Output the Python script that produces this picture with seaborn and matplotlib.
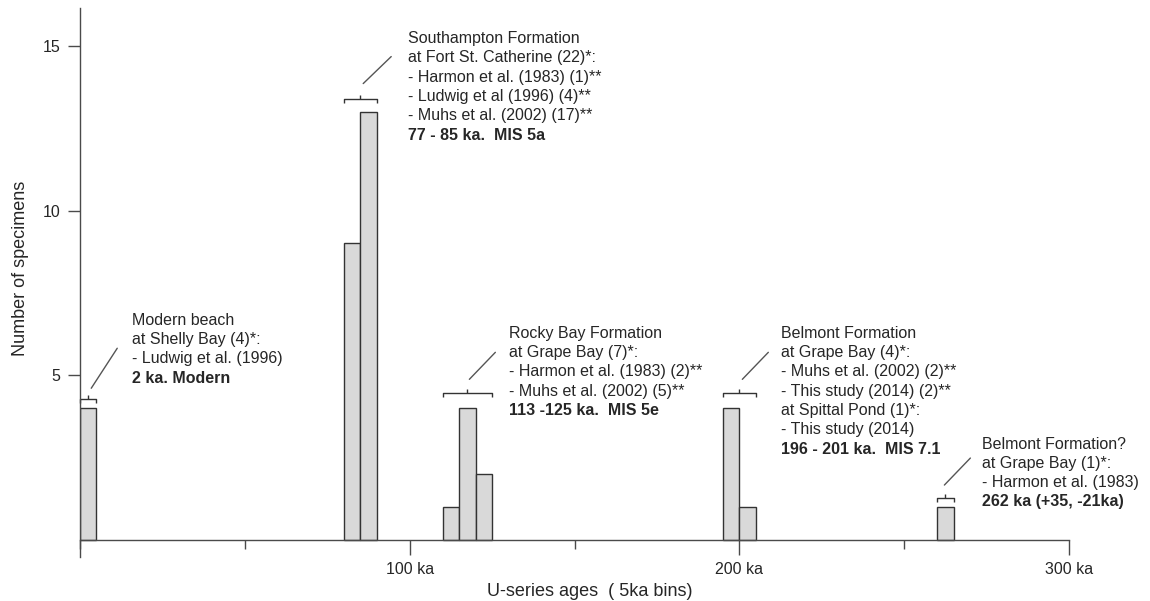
import numpy as np
import pandas as pd
import matplotlib
matplotlib.use("Agg")
import matplotlib.pyplot as plt
import seaborn as sns

# ---------------- data ----------------
bin_starts = [0, 80, 85, 110, 115, 120, 195, 200, 260]
counts = [4, 9, 13, 1, 4, 2, 4, 1, 1]
bin_width = 5
x_major = [100, 200, 300]
x_major_labels = ["100 ka", "200 ka", "300 ka"]
x_minor = [0, 50, 150, 250]
y_ticks = [5, 10, 15]

group_ranges = [(0, 5), (80, 90), (110, 125), (195, 205), (260, 265)]
bracket_heights = [4.27, 13.4, 4.45, 4.45, 1.27]
group_lines = [
    ["Modern beach", "at Shelly Bay (4)*:", "- Ludwig et al. (1996)"],
    ["Southampton Formation", "at Fort St. Catherine (22)*:",
     "- Harmon et al. (1983) (1)**", "- Ludwig et al (1996) (4)**",
     "- Muhs et al. (2002) (17)**"],
    ["Rocky Bay Formation", "at Grape Bay (7)*:",
     "- Harmon et al. (1983) (2)**", "- Muhs et al. (2002) (5)**"],
    ["Belmont Formation", "at Grape Bay (4)*:", "- Muhs et al. (2002) (2)**",
     "- This study (2014) (2)**", "at Spittal Pond (1)*:", "- This study (2014)"],
    ["Belmont Formation?", "at Grape Bay (1)*:", "- Harmon et al. (1983)"],
]
group_bold = ["2 ka. Modern", "77 - 85 ka.  MIS 5a", "113 -125 ka.  MIS 5e",
              "196 - 201 ka.  MIS 7.1", "262 ka (+35, -21ka)"]
# label placement (pixels from bracket centre: right, up)
text_offsets = [(44, 79), (48, 60), (42, 60), (42, 60), (37, 54)]
leader_offsets = [((3, 11), (29, 51)), ((3, 15), (31, 42)), ((2, 14), (28, 41)),
                  ((3, 14), (29, 41)), ((-1, 13), (25, 40))]

# ---------------- style ----------------
sns.set_style("ticks")
plt.rcParams["font.family"] = ["Liberation Sans", "DejaVu Sans"]
TXT = "#262626"
AX = "#4a4a4a"

W, H = 1150, 601
fig = plt.figure(figsize=(W / 100, H / 100), dpi=100)
ax_left, ax_right, ax_top, ax_bot = 80, 1069, 8, 557
ax = fig.add_axes([ax_left / W, (H - ax_bot) / H, (ax_right - ax_left) / W,
                   (ax_bot - ax_top) / H])

df = pd.DataFrame({"age": np.array(bin_starts) + bin_width / 2, "n": counts})
sns.histplot(data=df, x="age", weights="n", binwidth=bin_width, binrange=(0, 300),
             color="#d9d9d9", edgecolor="#333333", linewidth=1.0, alpha=1,
             ax=ax)
for p in list(ax.patches):
    if p.get_height() == 0:
        p.remove()

xlim = (0, 300)
ylim = (-0.52, 16.15)
ax.set_xlim(*xlim)
ax.set_ylim(*ylim)

for s in ["top", "right"]:
    ax.spines[s].set_visible(False)
ax.spines["bottom"].set_position(("data", 0))
for s in ["left", "bottom"]:
    ax.spines[s].set_color(AX)
    ax.spines[s].set_linewidth(1.0)

ax.set_xticks(x_major)
ax.set_xticklabels(x_major_labels)
ax.set_xticks(x_minor, minor=True)
ax.tick_params(axis="x", which="major", bottom=True, direction="out",
               length=10.8, width=1, color=AX,
               labelsize=11.5, labelcolor=TXT, pad=5)
ax.tick_params(axis="x", which="minor", bottom=True, direction="out",
               length=6.5, width=1, color=AX)
ax.set_yticks(y_ticks)
ax.tick_params(axis="y", left=True, direction="out", length=8.6, width=1,
               color=AX, labelsize=11.5, labelcolor=TXT, pad=5.5)

ax.set_xlabel("U-series ages  ( 5ka bins)", fontsize=13, color=TXT)
ax.set_ylabel("Number of specimens", fontsize=13, color=TXT)
aw, ah = ax_right - ax_left, ax_bot - ax_top
ax.xaxis.set_label_coords((590 - ax_left) / aw, -(583 - ax_bot) / ah)
ax.yaxis.set_label_coords(-(ax_left - 29) / aw, (ax_bot - 268) / ah)

# pixel -> data factors
kx = (xlim[1] - xlim[0]) / aw
ky = (ylim[1] - ylim[0]) / ah

for (x0, x1), by, lines, bold, (tdx, tdy), ((l0x, l0y), (l1x, l1y)) in zip(
        group_ranges, bracket_heights, group_lines, group_bold,
        text_offsets, leader_offsets):
    cx = (x0 + x1) / 2
    kw = dict(color="#333333", lw=1.0, clip_on=False, solid_capstyle="butt")
    ax.plot([x0, x0, x1, x1], [by - 4 * ky, by, by, by - 4 * ky], **kw)
    ax.plot([cx, cx], [by, by + 4 * ky], **kw)
    ax.plot([cx + l0x * kx, cx + l1x * kx], [by + l0y * ky, by + l1y * ky],
            color="#555555", lw=1.0, clip_on=False)
    for i, line in enumerate(lines + [bold]):
        ax.text(cx + tdx * kx, by + (tdy - i * 19.3) * ky, line,
                ha="left", va="center", fontsize=11.5, color=TXT,
                fontweight="bold" if i == len(lines) else "normal")

fig.savefig("out.png", dpi=100)
